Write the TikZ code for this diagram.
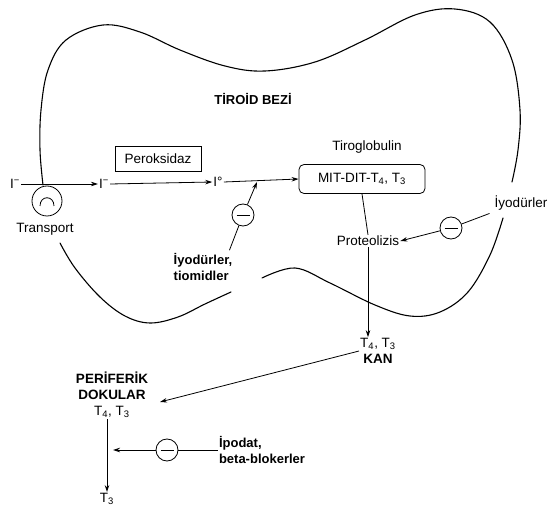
\documentclass[tikz,border=0pt]{standalone}
\usepackage{fontspec}
\setmainfont{Liberation Sans}
\usetikzlibrary{arrows.meta,calc}
\begin{document}
\begin{tikzpicture}[x=1pt,y=-1pt,
  lbl/.style={inner sep=1pt, font=\fontsize{13.5}{16}\selectfont},
  blbl/.style={inner sep=1pt, font=\fontsize{13}{16}\selectfont\bfseries},
  arr/.style={-{Stealth[length=7pt,width=4.5pt]}, line width=0.8pt},
  ln/.style={line width=0.8pt},
  inhib/.style={circle, draw, line width=0.8pt, minimum size=22pt, inner sep=0pt,
     path picture={\draw[line width=0.8pt] ([xshift=-6.5pt]path picture bounding box.center) -- ([xshift=6.5pt]path picture bounding box.center);}},
  outline/.style={line width=1.1pt, line join=round, line cap=round}]
\useasboundingbox (0,0) rectangle (558,508);

% thyroid outline
\draw[outline] plot[smooth, tension=0.6] coordinates {(43,185) (40,150) (41,110) (48,70) (66,40) (103,25) (140,32) (180,50) (225,66) (265,71) (315,62) (365,40) (415,15) (455,9) (490,22) (512,60) (520,110) (518,150) (512,182)};
\draw[outline] plot[smooth, tension=0.6] coordinates {(503,218) (490,255) (468,292) (440,312) (410,316) (375,305) (330,283) (295,268) (262,278)};
\draw[outline] plot[smooth, tension=0.6] coordinates {(60,243) (75,268) (100,297) (125,316) (150,323) (178,317) (205,304) (231,292)};

% texts
\node[blbl] (tiroid) at (253,99) {T\.IRO\.ID BEZ\.I};
\node[lbl] (iL) at (15,184) {I\textsuperscript{−}};
\node[lbl] (iM) at (104,184) {I\textsuperscript{−}};
\node[lbl] (i0) at (218,182) {I°};
\node[lbl, draw, line width=0.8pt, minimum width=86pt, minimum height=25pt] (perox) at (158,159) {Peroksidaz};
\node[lbl] (tirog) at (367,147) {Tiroglobulin};
\node[lbl, draw, line width=0.8pt, rounded corners=5pt, minimum width=126pt, minimum height=29pt] (mit) at (362,179) {MIT-DIT-T\textsubscript{4}, T\textsubscript{3}};
\node[lbl] (prot) at (368,241) {Proteolizis};
\node[lbl] (iyR) at (521,203) {İyodürler};
\node[blbl, align=left] (iyot) at (203,267) {İyodürler,\\tiomidler};
\node[lbl, align=center] (kan) at (378,351) {T\textsubscript{4}, T\textsubscript{3}\\\textbf{KAN}};
\node[lbl, align=center] (peri) at (112,395) {\textbf{PER\.IFER\.IK}\\\textbf{DOKULAR}\\T\textsubscript{4}, T\textsubscript{3}};
\node[lbl] (t3) at (107,499) {T\textsubscript{3}};
\node[blbl, align=left] (ipo) at (262,450) {İpodat,\\beta-blokerler};
\node[lbl] (trans) at (45,229) {Transport};

% transport carrier
\node[circle, draw, line width=0.8pt, minimum size=30pt, inner sep=0pt] (tc) at (47,201) {};
\draw[ln] ($(tc.center)+(-7,5)$) .. controls ($(tc.center)+(-7,-6)$) and ($(tc.center)+(7,-6)$) .. ($(tc.center)+(7,5)$);

% inhibition circles
\node[inhib] (c1) at (243,215) {};
\node[inhib] (c2) at (451,228) {};
\node[inhib] (c3) at (167,450) {};

% connection points
\coordinate (j1) at (257,182);
\coordinate (pa) at (160,402);
\coordinate (pb) at (113,450);

% connectors
\draw[arr] (iL.east) -- (iM.west);
\draw[arr] (iM.east) -- (i0.west);
\draw[arr] (i0.east) -- (mit.west);
\draw[ln] (iyot.north east) ++(-4,-2) coordinate (iy1) -- (c1);
\draw[arr] (c1) -- (j1);
\draw[ln] (mit.south) -- (prot.north);
\draw[arr] (prot.south) -- (prot.south |- kan.north);
\draw[ln] (iyR.south west) ++(-4,2) coordinate (iy2) -- (c2);
\draw[arr] (c2) -- (prot.east);
\draw[arr] (kan.west) -- (pa);
\draw[arr] (peri.south -| t3.north) -- (t3.north);
\draw[ln] (ipo.west) -- (c3);
\draw[arr] (c3) -- (pb);
\end{tikzpicture}
\end{document}
